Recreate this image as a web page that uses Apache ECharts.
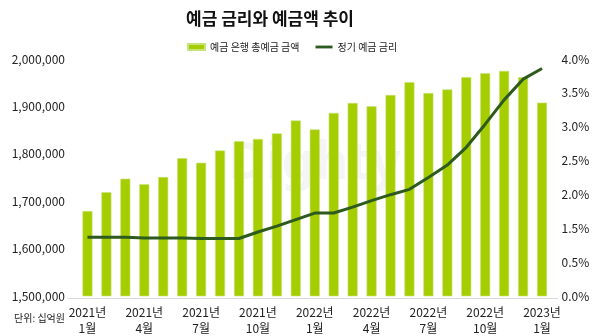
<!DOCTYPE html>
<html><head><meta charset="utf-8">
<script src="https://cdn.jsdelivr.net/npm/echarts@6/dist/echarts.min.js"></script>
<style>html,body{margin:0;padding:0;background:#fff}#c{width:600px;height:336px}</style>
</head><body><div id="c"></div>
<script>
const categories = ['2021년\n1월','2021년\n2월','2021년\n3월','2021년\n4월','2021년\n5월','2021년\n6월','2021년\n7월','2021년\n8월','2021년\n9월','2021년\n10월','2021년\n11월','2021년\n12월',
  '2022년\n1월','2022년\n2월','2022년\n3월','2022년\n4월','2022년\n5월','2022년\n6월','2022년\n7월','2022년\n8월','2022년\n9월','2022년\n10월','2022년\n11월','2022년\n12월','2023년\n1월'];
const depositAmount = [1679300,1719000,1747500,1735800,1751000,1790800,1781000,1806900,1826400,1831200,1843100,1870300,
  1851500,1886400,1907300,1900200,1924100,1951300,1928200,1935800,1961700,1970100,1974900,1961700,1908000];
const depositRate = [0.99,0.99,0.99,0.98,0.98,0.98,0.97,0.97,0.97,1.08,1.18,1.29,
  1.40,1.40,1.50,1.61,1.71,1.80,2.00,2.21,2.51,2.90,3.31,3.66,3.84];
const leftTicks = [1500000,1600000,1700000,1800000,1900000,2000000];
const rightTickLabels = ['0.0%','0.5%','1.5%','2.0%','2.5%','3.0%','3.5%','4.0%'];
const seriesNames = ['예금 은행 총예금 금액','정기 예금 금리'];

const FONT = '"Noto Sans CJK KR", "Noto Sans", sans-serif';
const chart = echarts.init(document.getElementById('c'), null, {renderer:'canvas'});
const rStep = 4/7;
chart.setOption({
  animation:false,
  textStyle:{fontFamily:FONT},
  title:{text:'예금 금리와 예금액 추이', left:181, top:5,
    textStyle:{fontFamily:FONT, fontSize:17, fontWeight:'bold', color:'#111'}},
  legend:{left:182, top:37, itemWidth:17, itemHeight:6, itemGap:16,
    textStyle:{fontFamily:FONT, fontSize:10, color:'#222'},
    data:[{name:seriesNames[0], icon:'rect'},
          {name:seriesNames[1], icon:'path://M0 0H12V2H0Z'}]},
  graphic:[
    {type:'text', left:228, top:138, z:-10, style:{text:'Dighty', font:'bold 52px "Noto Sans", sans-serif', fill:'#f5f5f5'}},
    {type:'line', shape:{x1:68, y1:298.5, x2:558, y2:298.5}, style:{stroke:'#d9d9d9', lineWidth:1}},
    {type:'text', left:14, top:313, style:{text:'단위: 십억원', font:'10px "Noto Sans CJK KR", sans-serif', fill:'#222'}}
  ],
  grid:{left:78, right:48.5, top:59, bottom:38},
  xAxis:{type:'category', data:categories, boundaryGap:true,
    axisLine:{show:false}, axisTick:{show:false},
    axisLabel:{interval:2, fontFamily:FONT, fontSize:12, color:'#222', lineHeight:16, margin:8}},
  yAxis:[
    {type:'value', min:leftTicks[0], max:leftTicks[leftTicks.length-1], interval:100000,
      splitLine:{show:false}, axisLine:{show:false}, axisTick:{show:false},
      axisLabel:{margin:13, fontFamily:FONT, fontSize:12, color:'#222',
        formatter:v=>v.toLocaleString('en-US')}},
    {type:'value', min:0, max:4, interval:rStep,
      splitLine:{show:false}, axisLine:{show:false}, axisTick:{show:false},
      axisLabel:{margin:10, fontFamily:FONT, fontSize:12, color:'#222',
        formatter:v=>rightTickLabels[Math.round(v/rStep)] || ''}}
  ],
  series:[
    {name:seriesNames[0], type:'bar', data:depositAmount, barWidth:10, yAxisIndex:0,
      itemStyle:{color:'#a5cd00', borderColor:'#c9e27a', borderWidth:0.6}},
    {name:seriesNames[1], type:'line', data:depositRate, yAxisIndex:1, symbol:'none',
      lineStyle:{color:'#2c5a1f', width:3}, itemStyle:{color:'#2c5a1f'}}
  ]
});
</script></body></html>
